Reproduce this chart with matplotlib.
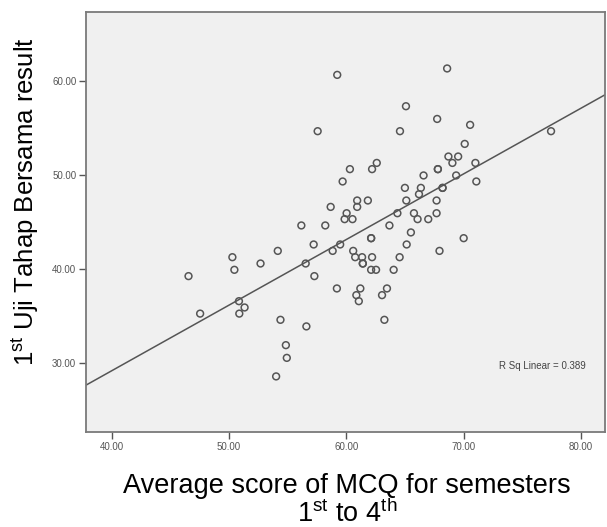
import numpy as np
import matplotlib
matplotlib.use('Agg')
import matplotlib.pyplot as plt

plt.rcParams['font.family'] = ['Liberation Sans', 'DejaVu Sans']
plt.rcParams['mathtext.fontset'] = 'custom'
plt.rcParams['mathtext.rm'] = 'Liberation Sans'

# average MCQ score (sem 1-4) vs 1st Uji Tahap Bersama result
mcq = [59.22, 68.59, 57.55, 65.08, 67.74, 70.55, 64.57, 77.45, 70.09, 68.70,
       69.53, 69.04, 71.00, 62.59, 62.19, 60.30, 67.80, 67.80, 66.58, 69.36,
       59.68, 71.08, 64.99, 66.35, 68.20, 68.20, 66.19, 60.92, 61.83, 65.11,
       67.69, 58.66, 60.92, 60.02, 64.35, 65.76, 67.69, 59.85, 60.52, 66.07,
       66.98, 56.16, 58.20, 63.67, 65.50, 62.11, 62.11, 70.00, 57.21, 59.47,
       65.14, 54.15, 58.83, 60.58, 67.94, 50.28, 60.75, 61.34, 62.19, 64.54,
       52.68, 56.53, 61.40, 61.40, 50.45, 62.11, 62.53, 64.03, 46.54, 57.27,
       59.19, 61.19, 63.46, 60.85, 63.04, 61.06, 50.84, 51.32, 50.87, 47.53,
       54.38, 63.24, 56.59, 54.84, 54.92, 54.01]
uji = [60.62, 61.30, 54.64, 57.29, 55.94, 55.31, 54.64, 54.64, 53.29, 51.95,
       51.95, 51.27, 51.27, 51.27, 50.61, 50.61, 50.61, 50.61, 49.94, 49.94,
       49.30, 49.30, 48.62, 48.62, 48.62, 48.62, 47.95, 47.28, 47.28, 47.28,
       47.28, 46.60, 46.60, 45.93, 45.93, 45.93, 45.93, 45.30, 45.30, 45.30,
       45.30, 44.63, 44.63, 44.63, 43.89, 43.28, 43.28, 43.28, 42.61, 42.61,
       42.61, 41.93, 41.93, 41.93, 41.93, 41.26, 41.26, 41.26, 41.26, 41.26,
       40.59, 40.59, 40.59, 40.59, 39.92, 39.92, 39.92, 39.92, 39.25, 39.25,
       37.94, 37.94, 37.94, 37.23, 37.23, 36.59, 36.59, 35.92, 35.27, 35.27,
       34.61, 34.61, 33.91, 31.92, 30.57, 28.60]
x_ticks = [40, 50, 60, 70, 80]
y_ticks = [30, 40, 50, 60]
r_sq_text = 'R Sq Linear = 0.389'

x = np.array(mcq)
y = np.array(uji)

fig = plt.figure(figsize=(6.07, 5.27), dpi=100)
ax = fig.add_axes([0.1417, 0.1803, 0.855, 0.797])
ax.set_facecolor('#f0f0f0')

ax.scatter(x, y, s=24, facecolors='none', edgecolors='#555555', linewidths=1.1, zorder=3)

xlim = (37.8, 82.05)
b, a = np.polyfit(x, y, 1)
xx = np.array(xlim)
ax.plot(xx, a + b * xx, color='#555555', lw=1.1, zorder=2)

ax.set_xlim(xlim)
ax.set_ylim(22.7, 67.3)
ax.set_xticks(x_ticks)
ax.set_yticks(y_ticks)
ax.set_xticklabels(['%.2f' % v for v in x_ticks])
ax.set_yticklabels(['%.2f' % v for v in y_ticks])
ax.tick_params(labelsize=7, colors='#555555', length=5, width=1, direction='out', pad=2)

for s in ax.spines.values():
    s.set_color('#7a7a7a')
    s.set_linewidth(1.3)

ax.text(76.73, 29.69, r_sq_text, fontsize=7, color='#444444', ha='center', va='center')

fig.text(0.572, 0.050, 'Average score of MCQ for semesters\n'
         r'1$^{\mathrm{st}}$ to 4$^{\mathrm{th}}$',
         ha='center', va='center', fontsize=19.5, linespacing=1.0)
fig.text(0.041, 0.617, r'1$^{\mathrm{st}}$ Uji Tahap Bersama result',
         rotation=90, ha='center', va='center', fontsize=18.5)

fig.savefig('out.png', dpi=100)
